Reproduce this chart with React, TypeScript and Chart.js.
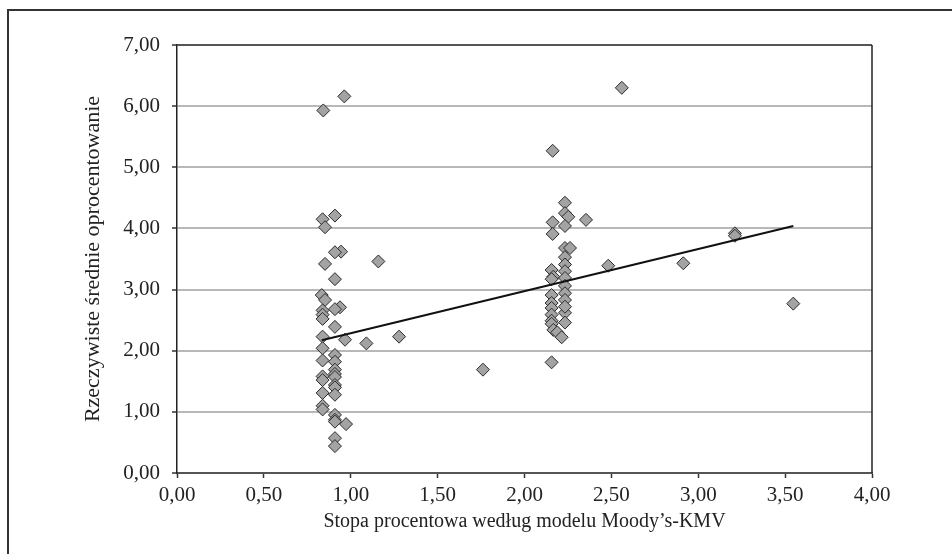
import React, { useEffect, useRef } from "react";
import { Chart, registerables } from "chart.js";

Chart.register(...registerables);

// Stopa procentowa według modelu Moody's-KMV (x) vs rzeczywiste średnie oprocentowanie (y)
const xValues = [
  0.963, 0.842, 0.909, 0.838, 0.852, 0.944, 0.909, 0.852, 1.159, 0.909,
  0.833, 0.852, 0.938, 0.909, 0.838, 0.838, 0.838, 0.909, 0.838, 0.967,
  1.09, 0.838, 0.909, 0.838, 0.909, 0.909, 0.909, 0.838, 0.909, 0.838,
  0.909, 0.909, 0.838, 0.909, 0.838, 0.838, 0.909, 0.909, 0.909, 0.973,
  0.909, 0.909, 1.278, 1.761,
  2.162, 2.233, 2.233, 2.252, 2.162, 2.233, 2.354, 2.162, 2.233, 2.262,
  2.233, 2.233, 2.482, 2.156, 2.233, 2.166, 2.233, 2.156, 2.233, 2.233,
  2.156, 2.233, 2.156, 2.156, 2.233, 2.156, 2.156, 2.233, 2.156, 2.166,
  2.189, 2.214, 2.156, 2.233, 2.56, 2.914, 3.211, 3.211, 3.547,
];
const yValues = [
  6.16, 5.93, 4.21, 4.15, 4.02, 3.62, 3.61, 3.42, 3.46, 3.17,
  2.91, 2.83, 2.71, 2.68, 2.66, 2.59, 2.52, 2.39, 2.23, 2.18,
  2.12, 2.04, 1.93, 1.84, 1.82, 1.69, 1.62, 1.58, 1.57, 1.52,
  1.44, 1.40, 1.31, 1.28, 1.10, 1.04, 0.95, 0.87, 0.84, 0.80,
  0.57, 0.44, 2.23, 1.69,
  5.27, 4.42, 4.25, 4.19, 4.10, 4.04, 4.14, 3.91, 3.68, 3.68,
  3.53, 3.41, 3.39, 3.32, 3.30, 3.21, 3.19, 3.17, 3.06, 2.94,
  2.91, 2.83, 2.78, 2.70, 2.62, 2.59, 2.49, 2.46, 2.44, 2.34,
  2.30, 2.22, 1.81, 2.72, 6.30, 3.43, 3.92, 3.88, 2.77,
];

// Linia trendu
const trendX = [0.833, 3.547];
const trendY = [2.17, 4.04];

const xTicks = [0, 0.5, 1, 1.5, 2, 2.5, 3, 3.5, 4];
const yTicks = [0, 1, 2, 3, 4, 5, 6, 7];

const xTitle = "Stopa procentowa według modelu Moody\u2019s-KMV";
const yTitle = "Rzeczywiste średnie oprocentowanie";

const fmt = (v: number) => v.toFixed(2).replace(".", ",");

const FONT = "'Liberation Serif', 'Times New Roman', serif";

const boxPlugin = {
  id: "plotBox",
  beforeDatasetsDraw(chart: any) {
    const { ctx, chartArea } = chart;
    const { left, top, right, bottom } = chartArea;
    ctx.save();
    ctx.strokeStyle = "#555";
    ctx.lineWidth = 2;
    ctx.beginPath();
    ctx.moveTo(left, top);
    ctx.lineTo(right, top);
    ctx.stroke();
    ctx.strokeStyle = "#222";
    ctx.lineWidth = 1.5;
    ctx.beginPath();
    ctx.moveTo(right, top);
    ctx.lineTo(right, bottom);
    ctx.stroke();
    ctx.restore();
  },
};

export default function App() {
  const canvasRef = useRef<HTMLCanvasElement | null>(null);

  useEffect(() => {
    if (!canvasRef.current) return;
    const points = xValues.map((x, i) => ({ x, y: yValues[i] }));
    const trend = trendX.map((x, i) => ({ x, y: trendY[i] }));
    const chart = new Chart(canvasRef.current, {
      type: "scatter",
      data: {
        datasets: [
          {
            data: trend,
            showLine: true,
            pointRadius: 0,
            borderColor: "#111",
            borderWidth: 2,
            order: 0,
          } as any,
          {
            data: points,
            pointStyle: "rectRot",
            pointRadius: 6.5,
            backgroundColor: "#a3a3a3",
            borderColor: "#2a2a2a",
            borderWidth: 1,
            order: 1,
          } as any,
        ],
      },
      options: {
        animation: false,
        responsive: false,
        layout: { padding: { left: 0, right: 80, top: 45, bottom: 0 } },
        plugins: {
          legend: { display: false },
          tooltip: { enabled: false },
        },
        scales: {
          x: {
            type: "linear",
            min: 0,
            max: 4,
            afterFit: (s: any) => {
              s.height = 81;
            },
            afterBuildTicks: (s: any) => {
              s.ticks = xTicks.map((v) => ({ value: v }));
            },
            ticks: {
              callback: (v: any) => fmt(Number(v)),
              color: "#222",
              font: { family: FONT, size: 21 },
              padding: 5,
              maxRotation: 0,
            },
            grid: {
              drawOnChartArea: false,
              drawTicks: true,
              tickLength: 5,
              tickColor: "#333",
              tickWidth: 1.5,
            },
            border: { color: "#555", width: 2 },
            title: {
              display: true,
              text: xTitle,
              color: "#222",
              font: { family: FONT, size: 20 },
              padding: { top: 0, bottom: 20 },
            },
          },
          y: {
            type: "linear",
            min: 0,
            max: 7,
            afterFit: (s: any) => {
              s.width = 177;
            },
            afterBuildTicks: (s: any) => {
              s.ticks = yTicks.map((v) => ({ value: v }));
            },
            ticks: {
              callback: (v: any) => fmt(Number(v)),
              color: "#222",
              font: { family: FONT, size: 21 },
              padding: 12,
            },
            grid: {
              color: "#b8b8b8",
              lineWidth: 2,
              drawTicks: true,
              tickLength: 5,
              tickColor: "#333",
              tickWidth: 1.5,
            },
            border: { color: "#222", width: 1.5 },
            title: {
              display: true,
              text: yTitle,
              color: "#222",
              font: { family: FONT, size: 22 },
              padding: { top: 80, bottom: 0 },
            },
          },
        },
      },
      plugins: [boxPlugin],
    });
    return () => chart.destroy();
  }, []);

  return (
    <div
      style={{
        position: "fixed",
        left: 0,
        top: 0,
        width: 952,
        height: 554,
        background: "#fff",
        overflow: "hidden",
      }}
    >
      <canvas ref={canvasRef} width={952} height={554} style={{ display: "block" }} />
      <div
        style={{
          position: "absolute",
          left: 7,
          top: 9,
          width: 1200,
          height: 1200,
          borderLeft: "2px solid #333",
          borderTop: "2px solid #333",
          pointerEvents: "none",
        }}
      />
    </div>
  );
}
